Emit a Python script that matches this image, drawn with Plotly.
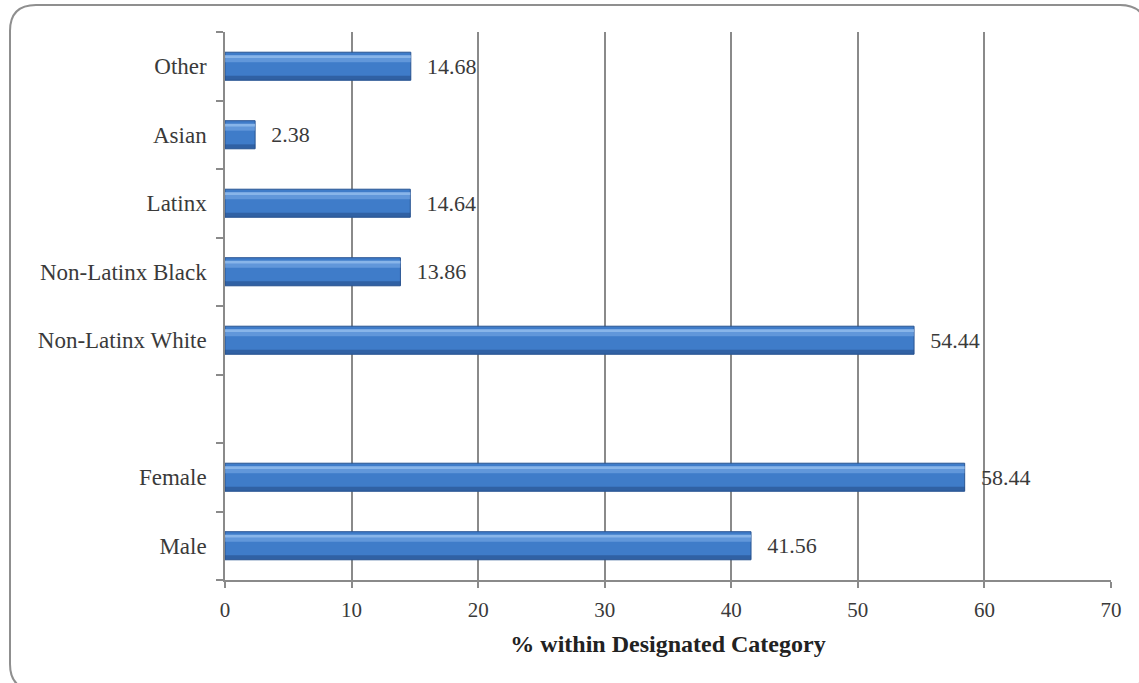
import plotly.graph_objects as go

categories = ["Male", "Female", " ", "Non-Latinx White", "Non-Latinx Black", "Latinx", "Asian", "Other"]
values = [41.56, 58.44, None, 54.44, 13.86, 14.64, 2.38, 14.68]
labels = ["41.56", "58.44", "", "54.44", "13.86", "14.64", "2.38", "14.68"]
x_ticks = [0, 10, 20, 30, 40, 50, 60, 70]
x_title = "% within Designated Category"

W, H = 1139, 683
L, R, T, B = 225, 1111, 32, 580  # plot area in pixels

def px_x(p):
    return (p - L) / (R - L)

def px_y(p):
    return (B - p) / (B - T)

FONT = "Liberation Serif"
GRID = "#8a8a8a"
TXT = "#3a3a3a"
FS = 22

fig = go.Figure()

fig.add_trace(go.Bar(
    y=categories, x=values, orientation="h", width=0.41,
    marker=dict(color="#3F7CC9", line=dict(color="#2A5592", width=1)),
    text=labels, texttemplate="\u2009\u2009\u2009%{text}", textposition="outside", cliponaxis=False,
    textfont=dict(family=FONT, size=FS, color=TXT),
    hoverinfo="skip", showlegend=False,
))
# soft highlight near the top to suggest cylinder shading
fig.add_trace(go.Bar(
    y=categories, x=values, orientation="h", width=0.10, offset=0.06,
    marker=dict(color="rgba(140,185,240,0.45)", line=dict(width=0)),
    hoverinfo="skip", showlegend=False,
))
fig.add_trace(go.Bar(
    y=categories, x=values, orientation="h", width=0.04, offset=0.12,
    marker=dict(color="rgba(170,205,245,0.55)", line=dict(width=0)),
    hoverinfo="skip", showlegend=False,
))
# darker lower edge
fig.add_trace(go.Bar(
    y=categories, x=values, orientation="h", width=0.06, offset=-0.2,
    marker=dict(color="rgba(30,65,120,0.45)", line=dict(width=0)),
    hoverinfo="skip", showlegend=False,
))

# rounded frame
x0, y0, x1, y1, r = 10, 5, 1146, 690, 26
path = (
    f"M {px_x(x0)},{px_y(y0 + r)} "
    f"Q {px_x(x0)},{px_y(y0)} {px_x(x0 + r)},{px_y(y0)} "
    f"L {px_x(x1 - r)},{px_y(y0)} "
    f"Q {px_x(x1)},{px_y(y0)} {px_x(x1)},{px_y(y0 + r)} "
    f"L {px_x(x1)},{px_y(y1 - r)} "
    f"Q {px_x(x1)},{px_y(y1)} {px_x(x1 - r)},{px_y(y1)} "
    f"L {px_x(x0 + r)},{px_y(y1)} "
    f"Q {px_x(x0)},{px_y(y1)} {px_x(x0)},{px_y(y1 - r)} Z"
)
fig.add_shape(type="path", path=path, xref="paper", yref="paper",
              line=dict(color="#8f8f8f", width=2), layer="below")

fig.update_layout(
    width=W, height=H,
    margin=dict(l=L, r=W - R, t=T, b=H - B, pad=0),
    paper_bgcolor="white", plot_bgcolor="white",
    barmode="overlay",
    font=dict(family=FONT, size=FS, color=TXT),
    xaxis=dict(
        range=[0, 70], tickvals=x_ticks, ticktext=[str(v) for v in x_ticks],
        showgrid=True, gridcolor=GRID, gridwidth=1.5,
        showline=True, linecolor=GRID, linewidth=1.5,
        ticks="outside", ticklen=6, tickcolor=GRID, tickwidth=1.5,
        tickfont=dict(family=FONT, size=FS - 1, color=TXT),
        ticklabelstandoff=4,
        zeroline=False,
        title=dict(text=f"<b>{x_title}</b>", font=dict(family=FONT, size=24, color="#222222"), standoff=14),
    ),
    yaxis=dict(
        type="category", categoryorder="array", categoryarray=categories,
        range=[-0.5, 7.5],
        showgrid=False, showline=True, linecolor=GRID, linewidth=1.5,
        ticks="outside", tickson="boundaries", ticklen=7, tickcolor=GRID, tickwidth=1.5,
        tickfont=dict(family=FONT, size=23, color=TXT),
        ticklabelstandoff=12,
        zeroline=False,
    ),
)

fig.write_html("out.html")
